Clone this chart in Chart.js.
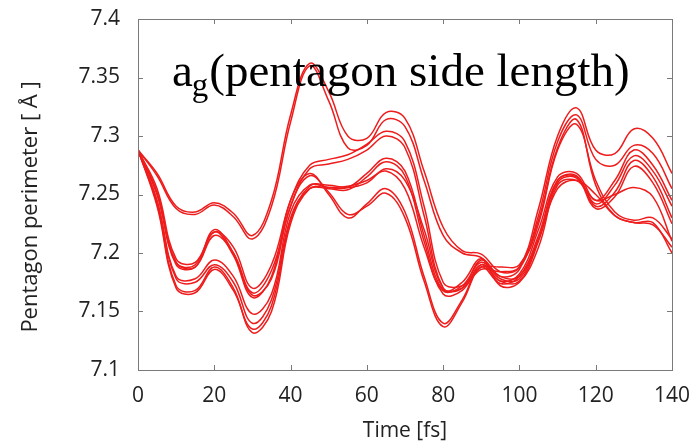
<!DOCTYPE html>
<html>
<head>
<meta charset="utf-8">
<script src="https://cdn.jsdelivr.net/npm/chart.js@4.4.1/dist/chart.umd.min.js"></script>
<style>
  html, body { margin: 0; padding: 0; background: #fff; }
  #wrap { width: 692px; height: 447px; }
</style>
</head>
<body>
<div id="wrap"><canvas id="c"></canvas></div>
<script>
// time axis, fs
const times = [0,5,10,15,20,25,30,35,40,45,50,55,60,65,70,75,80,85,90,95,100,105,110,115,120,125,130,135,140];

// pentagon perimeter per run, Å
const run1  = [7.288,7.268,7.240,7.235,7.243,7.234,7.215,7.245,7.318,7.362,7.338,7.300,7.298,7.320,7.315,7.270,7.222,7.202,7.199,7.184,7.188,7.238,7.300,7.324,7.288,7.285,7.306,7.298,7.268];
const run2  = [7.288,7.266,7.238,7.233,7.241,7.231,7.212,7.240,7.312,7.360,7.330,7.290,7.292,7.314,7.308,7.262,7.215,7.200,7.196,7.180,7.186,7.232,7.295,7.318,7.280,7.275,7.292,7.285,7.255];
const run3  = [7.288,7.255,7.195,7.192,7.218,7.205,7.170,7.190,7.245,7.275,7.280,7.284,7.293,7.304,7.295,7.240,7.175,7.172,7.188,7.188,7.190,7.228,7.290,7.314,7.258,7.232,7.226,7.224,7.205];
const run4  = [7.288,7.252,7.192,7.188,7.215,7.200,7.166,7.185,7.240,7.272,7.276,7.280,7.288,7.300,7.290,7.232,7.170,7.170,7.186,7.184,7.188,7.225,7.288,7.310,7.262,7.235,7.228,7.230,7.212];
const run5  = [7.288,7.250,7.190,7.188,7.218,7.198,7.162,7.180,7.245,7.268,7.250,7.230,7.242,7.255,7.235,7.180,7.140,7.160,7.190,7.176,7.182,7.220,7.265,7.268,7.245,7.262,7.288,7.275,7.245];
const run6  = [7.288,7.250,7.192,7.190,7.220,7.200,7.164,7.178,7.240,7.266,7.252,7.233,7.240,7.251,7.230,7.176,7.137,7.158,7.188,7.174,7.180,7.215,7.262,7.265,7.242,7.258,7.283,7.270,7.240];
const run7  = [7.288,7.245,7.180,7.178,7.194,7.180,7.148,7.165,7.235,7.258,7.256,7.256,7.268,7.281,7.270,7.215,7.168,7.172,7.192,7.178,7.178,7.212,7.262,7.266,7.240,7.252,7.279,7.265,7.230];
const run8  = [7.288,7.244,7.178,7.175,7.190,7.175,7.140,7.160,7.230,7.255,7.255,7.254,7.265,7.278,7.266,7.210,7.165,7.168,7.190,7.176,7.176,7.210,7.260,7.264,7.238,7.248,7.274,7.260,7.225];
const run9  = [7.288,7.242,7.172,7.168,7.188,7.170,7.132,7.150,7.225,7.255,7.256,7.257,7.262,7.270,7.255,7.205,7.168,7.175,7.195,7.172,7.175,7.205,7.258,7.262,7.245,7.250,7.256,7.248,7.210];
const run10 = [7.288,7.240,7.170,7.166,7.186,7.168,7.135,7.155,7.228,7.257,7.258,7.256,7.260,7.272,7.262,7.220,7.170,7.170,7.194,7.180,7.180,7.212,7.255,7.262,7.250,7.232,7.226,7.226,7.200];

const runs = [run1, run2, run3, run4, run5, run6, run7, run8, run9, run10];

const xTickValues = [0, 20, 40, 60, 80, 100, 120, 140];
const yTickValues = [7.1, 7.15, 7.2, 7.25, 7.3, 7.35, 7.4];

const yLabel = 'Pentagon perimeter [ Å ]';
const xLabel = 'Time [fs]';
const titleMain = 'a';
const titleSub = 'g';
const titleRest = '(pentagon side length)';

const tickFont = { family: 'Open Sans', size: 21 };
const boxColor = '#7a7a7a';

// box with inward ticks on all four sides, MATLAB style
const frame = {
  id: 'frame',
  afterDatasetsDraw(chart) {
    const { ctx, chartArea: a, scales } = chart;
    const len = 5;
    ctx.save();
    ctx.strokeStyle = boxColor;
    ctx.lineWidth = 1;
    ctx.strokeRect(a.left + 0.5, a.top + 0.5, a.right - a.left, a.bottom - a.top);
    ctx.beginPath();
    xTickValues.forEach(v => {
      const x = Math.round(scales.x.getPixelForValue(v)) + 0.5;
      ctx.moveTo(x, a.bottom); ctx.lineTo(x, a.bottom - len);
      ctx.moveTo(x, a.top); ctx.lineTo(x, a.top + len);
    });
    yTickValues.forEach(v => {
      const y = Math.round(scales.y.getPixelForValue(v)) + 0.5;
      ctx.moveTo(a.left, y); ctx.lineTo(a.left + len, y);
      ctx.moveTo(a.right, y); ctx.lineTo(a.right - len, y);
    });
    ctx.stroke();

    // rotated y title
    ctx.fillStyle = '#222';
    ctx.font = '22px "Open Sans"';
    ctx.textAlign = 'center';
    ctx.textBaseline = 'middle';
    ctx.translate(31, 207);
    ctx.rotate(-Math.PI / 2);
    ctx.fillText(yLabel, 0, 0);
    ctx.restore();

    // in-plot title with subscript
    ctx.save();
    ctx.fillStyle = '#000';
    ctx.textBaseline = 'alphabetic';
    let x = 172;
    const base = 86;
    ctx.font = '47px "Liberation Serif"';
    ctx.fillText(titleMain, x, base);
    x += ctx.measureText(titleMain).width;
    ctx.font = '33px "Liberation Serif"';
    ctx.fillText(titleSub, x - 1, base + 10);
    x += ctx.measureText(titleSub).width;
    ctx.font = '47px "Liberation Serif"';
    ctx.fillText(titleRest, x, base);
    ctx.restore();
  }
};

new Chart(document.getElementById('c'), {
  type: 'line',
  data: {
    datasets: runs.map(r => ({
      data: r.map((v, i) => ({ x: times[i], y: v })),
      borderColor: '#ee1c1c',
      borderWidth: 1.5,
      pointRadius: 0,
      tension: 0.4,
      fill: false
    }))
  },
  options: {
    responsive: true,
    maintainAspectRatio: false,
    animation: false,
    layout: { padding: { top: 19, right: 20, left: 0, bottom: 0 } },
    plugins: { legend: { display: false }, tooltip: { enabled: false } },
    scales: {
      x: {
        type: 'linear',
        min: 0, max: 140,
        afterFit: s => { s.height = 77; s.paddingLeft = 0; s.paddingRight = 0; },
        afterBuildTicks: s => { s.ticks = xTickValues.map(v => ({ value: v })); },
        grid: { display: false, drawTicks: false },
        border: { display: false },
        ticks: { font: tickFont, color: '#222', padding: 13, maxRotation: 0 },
        title: { display: true, text: xLabel, font: tickFont, color: '#222', padding: { top: 0, bottom: 3 } }
      },
      y: {
        min: 7.1, max: 7.4,
        afterFit: s => { s.width = 138; s.paddingTop = 0; s.paddingBottom = 0; },
        afterBuildTicks: s => { s.ticks = yTickValues.map(v => ({ value: v })); },
        grid: { display: false, drawTicks: false },
        border: { display: false },
        ticks: {
          font: tickFont, color: '#222', padding: 18,
          callback: v => String(Number(v.toFixed(2)))
        }
      }
    }
  },
  plugins: [frame]
});
</script>
</body>
</html>
